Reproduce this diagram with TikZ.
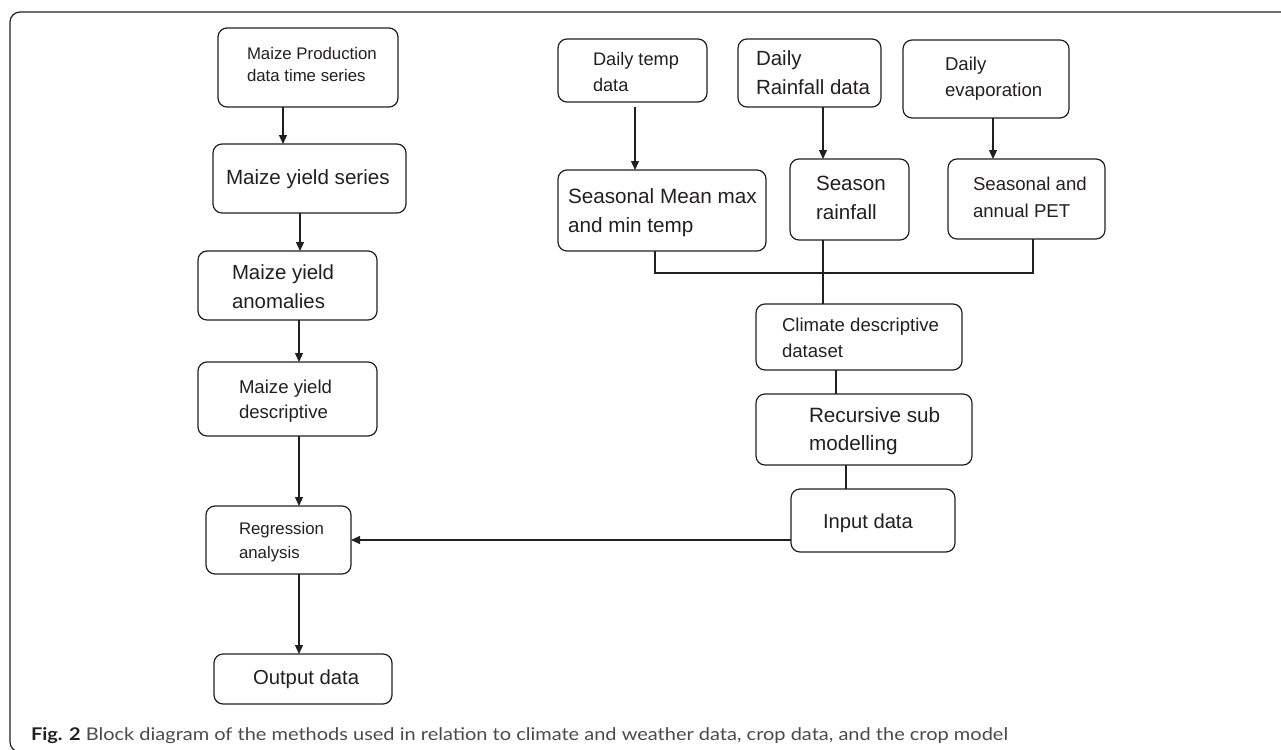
\documentclass[tikz,border=0pt]{standalone}
\usepackage{fontspec}
\setmainfont{Liberation Sans}
\newfontfamily\capfont{Lato}
\usetikzlibrary{arrows.meta}
\definecolor{ink}{HTML}{231F20}
\definecolor{capgrey}{HTML}{4A4A4A}
\newcommand\bx[5]{\node[box, minimum width={#4-#2}, minimum height={#5-#3}] (#1) at ({(#2+#4)/2},{(#3+#5)/2}) {};}
\newcommand\tl[5]{\node[txt, font=\fontsize{#4}{#4}\selectfont] (#1) at (#2,#3) {#5};}
\begin{document}
\begin{tikzpicture}[x=1pt,y=-1pt,
  box/.style={draw=ink, line width=1.2pt, rounded corners=9pt, inner sep=0pt, outer sep=0pt},
  txt/.style={inner sep=0pt, outer sep=0pt, text=ink, anchor=base west},
  arr/.style={draw=ink, line width=1.3pt, -{Triangle[width=8pt,length=9pt]}},
  ln/.style={draw=ink, line width=1.2pt}]
\useasboundingbox (0,0) rectangle (1281,749);
% outer frame
\draw[ln, rounded corners=10pt] (1290,752) -- (10,752) -- (10,12) -- (1290,12);

% left column boxes
\bx{mp}{218}{28}{398}{107}
\bx{ys}{213}{144}{406}{213}
\bx{an}{198}{251}{377}{320}
\bx{ds}{198}{362}{377}{436}
\bx{rg}{206}{506}{351}{574}
\bx{out}{214}{654}{392}{704}
% right boxes
\bx{dt}{558}{39}{707}{102}
\bx{dr}{738}{39}{881}{107}
\bx{de}{903}{40}{1069}{118}
\bx{sm}{558}{170}{766}{251}
\bx{sr}{790}{159}{909}{240}
\bx{pet}{948}{159}{1105}{239}
\bx{cl}{756}{304}{962}{370}
\bx{rc}{756}{394}{972}{465}
\bx{in}{791}{489}{955}{552}

% texts
\tl{mpa}{247}{60}{16.8}{Maize Production}
\tl{mpb}{247}{82}{16.8}{data time series}
\tl{ysa}{226}{184}{20.6}{Maize yield series}
\tl{ana}{232}{279}{20.4}{Maize yield}
\tl{anb}{232}{308}{20.4}{anomalies}
\tl{dsa}{239}{393}{18.6}{Maize yield}
\tl{dsb}{239}{418}{18.6}{descriptive}
\tl{rga}{239}{534}{16.8}{Regression}
\tl{rgb}{239}{558}{16.8}{analysis}
\tl{outa}{253}{684}{20.3}{Output data}
\tl{dta}{593}{66}{18.2}{Daily temp}
\tl{dtb}{593}{92}{18.2}{data}
\tl{dra}{756}{66}{20.5}{Daily}
\tl{drb}{756}{95}{20.5}{Rainfall data}
\tl{dea}{945}{71}{18.6}{Daily}
\tl{deb}{945}{97}{18.6}{evaporation}
\tl{sma}{568}{203}{20.7}{Seasonal Mean max}
\tl{smb}{568}{232}{20.7}{and min temp}
\tl{sra}{816}{190}{20.6}{Season}
\tl{srb}{816}{219}{20.6}{rainfall}
\tl{peta}{973}{190}{18.6}{Seasonal and}
\tl{petb}{973}{217}{18.6}{annual PET}
\tl{cla}{782}{331}{18.6}{Climate descriptive}
\tl{clb}{782}{357}{18.6}{dataset}
\tl{rca}{809}{422}{20.7}{Recursive sub}
\tl{rcb}{809}{450}{20.7}{modelling}
\tl{ina}{823}{528}{20.2}{Input data}

% left column arrows
\draw[arr] (mp.south -| 283,0) -- (ys.north -| 283,0);
\draw[arr] (ys.south -| 300,0) -- (an.north -| 300,0);
\draw[arr] (an.south -| 299,0) -- (ds.north -| 299,0);
\draw[arr] (ds.south -| 299,0) -- (rg.north -| 299,0);
\draw[arr] (rg.south -| 299,0) -- (out.north -| 299,0);
\draw[arr] (rg.east -| in.west) -- (rg.east);
% right arrows
\draw[arr] ([yshift=-5pt]dt.south -| 635,0) -- (sm.north -| 635,0);
\draw[arr] (dr.south -| 823,0) -- (sr.north -| 823,0);
\draw[arr] (de.south -| 993,0) -- (pet.north -| 993,0);
% merge lines
\coordinate (jl) at (655,273);
\coordinate (jr) at (1033,273);
\draw[ln] (sm.south -| jl) -- (jl) -- (jr) -- (pet.south -| jr);
\draw[ln] (sr.south -| 823,0) -- (cl.north -| 823,0);
\draw[ln] (cl.south -| 836,0) -- (rc.north -| 836,0);
\draw[ln] (rc.south -| 846,0) -- (in.north -| 846,0);

% caption
\node[txt, font=\capfont\fontsize{17.5}{17.5}\selectfont] (cap) at (31,740)
  {\resizebox{977pt}{\height}{\textbf{Fig. 2} \color{capgrey}Block diagram of the methods used in relation to climate and weather data, crop data, and the crop model}};
\end{tikzpicture}
\end{document}
